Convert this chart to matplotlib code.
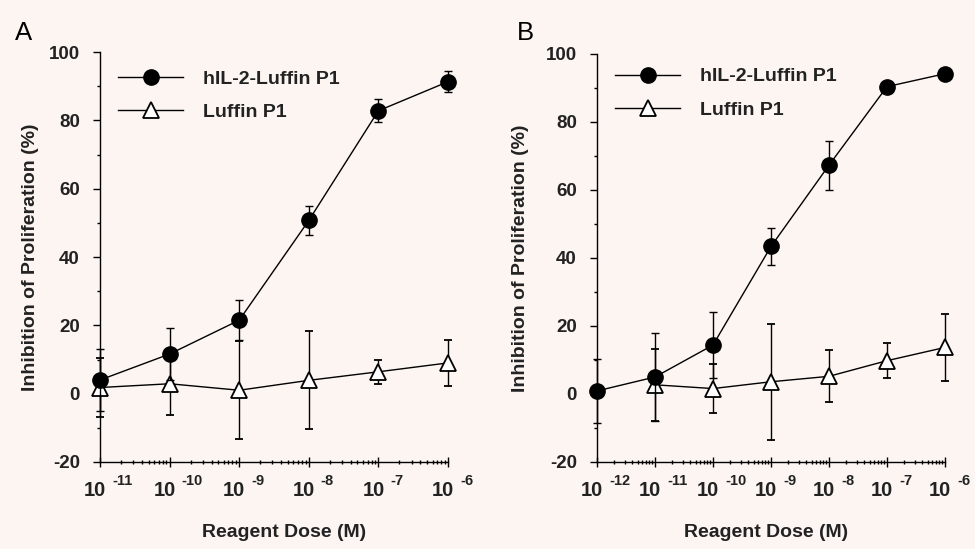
import matplotlib
matplotlib.use("Agg")
import matplotlib.pyplot as plt
from matplotlib.lines import Line2D
from matplotlib.ticker import FixedLocator, FixedFormatter, LogLocator, NullFormatter
import matplotlib.transforms as mtransforms
import numpy as np

plt.rcParams['font.family'] = ['Liberation Sans', 'DejaVu Sans']
plt.rcParams['axes.unicode_minus'] = False

# ---- data ----
# Panel A
dose_exp_A = [-11, -10, -9, -8, -7, -6]
hil_A = [4.0, 11.6, 21.5, 50.7, 82.8, 91.3]
hil_A_err = [9.0, 7.6, 5.8, 4.2, 3.3, 3.1]
luf_A = [1.8, 2.9, 1.0, 3.9, 6.4, 9.0]
luf_A_err = [8.5, 9.0, 14.3, 14.3, 3.6, 6.7]

# Panel B
dose_exp_B = [-12, -11, -10, -9, -8, -7, -6]
hil_B = [0.9, 5.0, 14.4, 43.4, 67.3, 90.4, 94.2]
hil_B_err = [9.5, 13.0, 9.7, 5.4, 7.2, 1.0, 1.5]
dose_exp_B_luf = [-11, -10, -9, -8, -7, -6]
luf_B = [2.7, 1.6, 3.6, 5.2, 9.8, 13.7]
luf_B_err = [10.5, 7.3, 17.0, 7.6, 5.2, 9.9]

y_ticks = [-20, 0, 20, 40, 60, 80, 100]
series_names = ["hIL-2-Luffin P1", "Luffin P1"]
panel_labels = ["A", "B"]
x_label = "Reagent Dose (M)"
y_label = "Inhibition of Proliferation (%)"

BG = '#fcf5f2'
W, H = 975, 549
fig = plt.figure(figsize=(W / 100, H / 100), dpi=100, facecolor=BG)


def px_axes(l, r, t, b):
    return fig.add_axes([l / W, 1 - b / H, (r - l) / W, (b - t) / H])


axA = px_axes(100, 448, 52, 462)
axB = px_axes(597, 945, 54, 462)

ms_c = 11
ms_t = 11.5
lw = 1.0


def draw(ax, xe_h, yh, eh, xe_l, yl, el):
    xh = [10.0 ** e for e in xe_h]
    xl = [10.0 ** e for e in xe_l]
    ax.errorbar(xl, yl, yerr=el, fmt='-', color='black', lw=lw, elinewidth=lw,
                capsize=3.2, capthick=lw, marker='^', ms=ms_t, mfc='white',
                mec='black', mew=1.3, clip_on=False, zorder=3)
    ax.errorbar(xh, yh, yerr=eh, fmt='-', color='black', lw=lw, elinewidth=lw,
                capsize=3.2, capthick=lw, marker='o', ms=ms_c, mfc='black',
                mec='black', clip_on=False, zorder=4)


def style(ax, exps, yl_x, xl_x, leg_top):
    ax.set_facecolor(BG)
    ax.set_xscale('log')
    ax.set_xlim(10.0 ** exps[0], 10.0 ** exps[-1])
    ax.set_ylim(-20, 100)
    for s in ['top', 'right']:
        ax.spines[s].set_visible(False)
    for s in ['left', 'bottom']:
        ax.spines[s].set_linewidth(1.0)
    ax.yaxis.set_major_locator(FixedLocator(y_ticks))
    ax.yaxis.set_minor_locator(FixedLocator([-10, 10, 30, 50, 70, 90]))
    ax.set_yticklabels([str(v) for v in y_ticks], fontsize=13.5, fontweight='bold',
                       color='#222222')
    ax.tick_params(axis='y', which='major', direction='out', length=5, width=1, pad=9.5)
    ax.tick_params(axis='y', which='minor', direction='out', length=2.5, width=1)

    xt = [10.0 ** e for e in exps]
    ax.xaxis.set_major_locator(FixedLocator(xt))
    ax.xaxis.set_major_formatter(FixedFormatter(["10"] * len(xt)))
    ax.xaxis.set_minor_locator(LogLocator(base=10, subs=np.arange(2, 10), numticks=50))
    ax.xaxis.set_minor_formatter(NullFormatter())
    ax.tick_params(axis='x', which='major', direction='inout', length=7, width=1, pad=10)
    ax.tick_params(axis='x', which='minor', direction='inout', length=3.5, width=1)
    off = mtransforms.ScaledTranslation(-5 / 100, 0, fig.dpi_scale_trans)
    for lab in ax.get_xticklabels():
        lab.set_fontsize(14.5)
        lab.set_fontweight('bold')
        lab.set_color('#222222')
        lab.set_transform(lab.get_transform() + off)
    for e, x in zip(exps, xt):
        ax.annotate("-%d" % (-e), xy=(x, 0), xycoords=('data', 'axes fraction'),
                    xytext=(12, -12), textcoords='offset pixels', ha='left', va='top',
                    fontsize=10.5, fontweight='bold', color='#222222',
                    annotation_clip=False)

    ax.set_xlabel(x_label, fontsize=14, fontweight='bold', color='#222222')
    ax.xaxis.set_label_coords(xl_x, -0.151)
    ax.set_ylabel(y_label, fontsize=14, fontweight='bold', color='#222222')
    ax.yaxis.set_label_coords(yl_x, 0.5)

    handles = [
        Line2D([], [], color='black', lw=lw, marker='o', ms=ms_c, mfc='black', mec='black'),
        Line2D([], [], color='black', lw=lw, marker='^', ms=ms_t, mfc='white', mec='black', mew=1.3),
    ]
    leg = ax.legend(handles, series_names, loc='upper left', bbox_to_anchor=(0.052, leg_top),
                    frameon=False, borderpad=0, borderaxespad=0, handlelength=3.35,
                    handletextpad=1.0, labelspacing=0.82, prop={'size': 14, 'weight': 'bold'})
    for t in leg.get_texts():
        t.set_color('#222222')


draw(axA, dose_exp_A, hil_A, hil_A_err, dose_exp_A, luf_A, luf_A_err)
style(axA, dose_exp_A, -0.175, 0.53, 0.956)
draw(axB, dose_exp_B, hil_B, hil_B_err, dose_exp_B_luf, luf_B, luf_B_err)
style(axB, dose_exp_B, -0.195, 0.486, 0.966)

fig.text(15 / W, 1 - 21 / H, panel_labels[0], fontsize=18.5, va='top', ha='left', color='black')
fig.text(517 / W, 1 - 21 / H, panel_labels[1], fontsize=18.5, va='top', ha='left', color='black')

fig.savefig("out.png", dpi=100, facecolor=BG)
